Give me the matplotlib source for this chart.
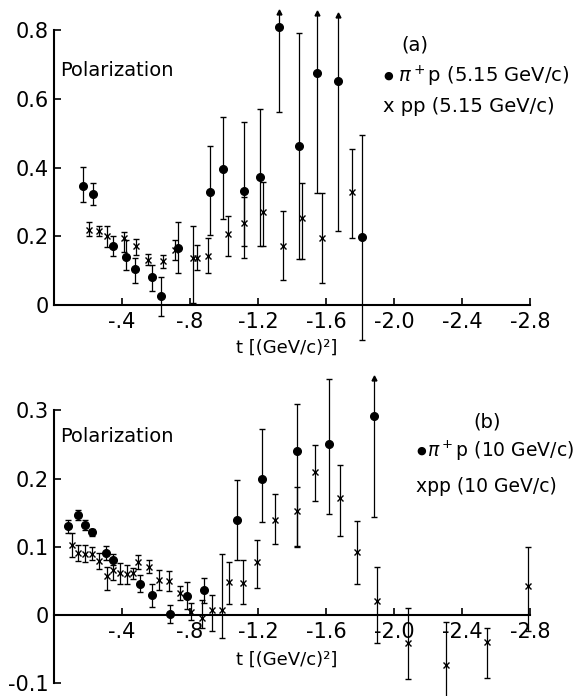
import numpy as np
import matplotlib
matplotlib.use("Agg")
import matplotlib.pyplot as plt

plt.rcParams["font.family"] = ["DejaVu Sans"]
plt.rcParams["mathtext.fontset"] = "dejavusans"

# panel (a): 5.15 GeV/c
t_a_pi = [-0.169, -0.228, -0.349, -0.422, -0.478, -0.575, -0.631, -0.729, -0.918,
          -0.996, -1.116, -1.212, -1.325, -1.443, -1.545, -1.673, -1.811]
p_a_pi = [0.346, 0.323, 0.172, 0.140, 0.104, 0.081, 0.026, 0.165, 0.329,
          0.395, 0.332, 0.373, 0.808, 0.462, 0.676, 0.652, 0.199]
lo_a_pi = [0.046, 0.032, 0.029, 0.038, 0.041, 0.040, 0.058, 0.073, 0.125,
           0.146, 0.196, 0.201, 0.248, 0.329, 0.351, 0.436, 0.301]
hi_a_pi = [0.056, 0.032, 0.028, 0.049, 0.032, 0.035, 0.056, 0.077, 0.133,
           0.153, 0.199, 0.197, 0.045, 0.328, 0.173, 0.192, 0.296]
arrow_a_pi = [0] * 12 + [1, 0, 1, 1, 0]

t_a_pp = [-0.208, -0.266, -0.310, -0.412, -0.482, -0.551, -0.643, -0.712, -0.819,
          -0.840, -0.908, -1.022, -1.120, -1.232, -1.345, -1.457, -1.578, -1.755]
p_a_pp = [0.218, 0.215, 0.200, 0.194, 0.172, 0.131, 0.127, 0.160, 0.136,
          0.138, 0.142, 0.207, 0.238, 0.271, 0.172, 0.252, 0.194, 0.330]
lo_a_pp = [0.018, 0.015, 0.030, 0.039, 0.027, 0.015, 0.020, 0.029, 0.131,
           0.036, 0.050, 0.065, 0.066, 0.099, 0.099, 0.119, 0.131, 0.136]
hi_a_pp = [0.024, 0.015, 0.030, 0.019, 0.019, 0.017, 0.018, 0.029, 0.094,
           0.036, 0.052, 0.052, 0.077, 0.088, 0.102, 0.102, 0.131, 0.123]

# panel (b): 10 GeV/c
t_b_pi = [-0.084, -0.143, -0.182, -0.222, -0.304, -0.345, -0.506, -0.575,
          -0.682, -0.780, -0.882, -1.075, -1.225, -1.428, -1.618, -1.882]
p_b_pi = [0.130, 0.147, 0.132, 0.121, 0.091, 0.081, 0.046, 0.030,
          0.002, 0.028, 0.036, 0.140, 0.200, 0.241, 0.251, 0.292]
lo_b_pi = [0.010, 0.007, 0.008, 0.005, 0.010, 0.008, 0.012, 0.018,
           0.013, 0.019, 0.019, 0.059, 0.064, 0.141, 0.103, 0.149]
hi_b_pi = [0.010, 0.007, 0.008, 0.005, 0.010, 0.008, 0.012, 0.016,
           0.013, 0.021, 0.018, 0.058, 0.073, 0.069, 0.095, 0.055]
arrow_b_pi = [0] * 15 + [1]

t_b_pp = [-0.104, -0.143, -0.182, -0.222, -0.266, -0.310, -0.345, -0.388,
          -0.428, -0.466, -0.496, -0.559, -0.620, -0.678, -0.741, -0.804,
          -0.868, -0.927, -0.990, -1.029, -1.110, -1.196, -1.300, -1.427,
          -1.535, -1.682, -1.784, -1.902, -2.081, -2.306, -2.545, -2.790]
p_b_pp = [0.103, 0.091, 0.090, 0.090, 0.079, 0.057, 0.066, 0.061,
          0.060, 0.061, 0.078, 0.071, 0.051, 0.050, 0.032, 0.005,
          -0.004, 0.007, 0.007, 0.049, 0.047, 0.077, 0.140, 0.152,
          0.210, 0.172, 0.093, 0.020, -0.041, -0.073, -0.039, 0.043]
lo_b_pp = [0.018, 0.012, 0.012, 0.010, 0.012, 0.020, 0.015, 0.015,
           0.014, 0.008, 0.010, 0.010, 0.015, 0.015, 0.010, 0.012,
           0.015, 0.030, 0.040, 0.033, 0.031, 0.038, 0.036, 0.051,
           0.043, 0.056, 0.047, 0.061, 0.053, 0.065, 0.053, 0.067]
hi_b_pp = [0.017, 0.012, 0.012, 0.010, 0.012, 0.014, 0.015, 0.015,
           0.014, 0.008, 0.010, 0.010, 0.015, 0.015, 0.010, 0.012,
           0.026, 0.022, 0.083, 0.028, 0.033, 0.033, 0.037, 0.035,
           0.040, 0.048, 0.045, 0.051, 0.052, 0.063, 0.020, 0.057]

x_ticks = [-0.4, -0.8, -1.2, -1.6, -2.0, -2.4, -2.8]
x_ticklabels = ["-.4", "-.8", "-1.2", "-1.6", "-2.0", "-2.4", "-2.8"]
y_ticks_a = [0, 0.2, 0.4, 0.6, 0.8]
y_ticklabels_a = ["0", "0.2", "0.4", "0.6", "0.8"]
y_ticks_b = [-0.1, 0, 0.1, 0.2, 0.3]
y_ticklabels_b = ["-0.1", "0", "0.1", "0.2", "0.3"]

ERR_KW = dict(color="black", mew=1.0, elinewidth=0.9, capsize=2.5, capthick=0.9)


def draw_series(ax, t, p, lo, hi, marker, ms, arrows=None):
    t, p, lo, hi = map(np.array, (t, p, lo, hi))
    if arrows is None:
        m = np.zeros(len(t), dtype=bool)
    else:
        m = np.array(arrows, dtype=bool)
    # normal points: capped both ends
    ax.errorbar(t[~m], p[~m], yerr=[lo[~m], hi[~m]], fmt=marker, ms=ms, **ERR_KW)
    if m.any():
        # lower limit points: cap below, arrowhead on top
        ax.errorbar(t[m], p[m], yerr=[lo[m], np.zeros(m.sum())], fmt=marker, ms=ms, **ERR_KW)
        ax.vlines(t[m], p[m], p[m] + hi[m], color="black", lw=0.9)
        ax.plot(t[m], p[m] + hi[m], "^", color="black", ms=3.5)


def style_axes(ax, yt, ytl, ybounds):
    ax.set_xlim(0, -2.82)
    ax.spines["top"].set_visible(False)
    ax.spines["right"].set_visible(False)
    ax.spines["bottom"].set_position(("data", 0))
    ax.spines["bottom"].set_bounds(0, -2.8)
    ax.spines["left"].set_bounds(*ybounds)
    for s in ("bottom", "left"):
        ax.spines[s].set_linewidth(1.5)
    ax.set_xticks(x_ticks)
    ax.set_xticklabels(x_ticklabels)
    ax.set_yticks(yt)
    ax.set_yticklabels(ytl)
    ax.tick_params(direction="in", length=5, width=1.2, labelsize=15)
    ax.tick_params(axis="y", pad=4)
    ax.tick_params(axis="x", pad=5)
    ax.patch.set_alpha(0)


fig = plt.figure(figsize=(5.76, 6.96), dpi=100)

ax_a = fig.add_axes([54 / 576, 0.5, 479.4 / 576, 0.4915])
ax_a.set_ylim(-0.125, 0.87)
draw_series(ax_a, t_a_pi, p_a_pi, lo_a_pi, hi_a_pi, "o", 5.5, arrow_a_pi)
draw_series(ax_a, t_a_pp, p_a_pp, lo_a_pp, hi_a_pp, "x", 4)
style_axes(ax_a, y_ticks_a, y_ticklabels_a, (0, 0.8))

ax_b = fig.add_axes([54 / 576, -0.0012, 479.4 / 576, 0.4703])
ax_b.set_ylim(-0.12, 0.36)
draw_series(ax_b, t_b_pi, p_b_pi, lo_b_pi, hi_b_pi, "o", 5.5, arrow_b_pi)
draw_series(ax_b, t_b_pp, p_b_pp, lo_b_pp, hi_b_pp, "x", 4)
style_axes(ax_b, y_ticks_b, y_ticklabels_b, (-0.1, 0.3))


def ftext(x, y, s, **kw):
    fig.text(x / 576, 1 - y / 696, s, va="center", **kw)


# panel (a) labels
ftext(60, 70, "Polarization", fontsize=14)
ftext(415, 45, "(a)", fontsize=14, ha="center")
ftext(383, 76, "\u25cf", fontsize=8)
ftext(398, 76, "$\\pi^+$p (5.15 GeV/c)", fontsize=14)
ftext(383, 106, "x pp (5.15 GeV/c)", fontsize=14)
ftext(236, 348, "t [(GeV/c)\u00b2]", fontsize=13)

# panel (b) labels
ftext(487, 422, "(b)", fontsize=14, ha="center")
ftext(60, 437, "Polarization", fontsize=14)
ftext(416, 451, "\u25cf", fontsize=8)
ftext(427, 451, "$\\pi^+$p (10 GeV/c)", fontsize=13.5)
ftext(416, 487, "xpp (10 GeV/c)", fontsize=13.5)
ftext(236, 660, "t [(GeV/c)\u00b2]", fontsize=13)

fig.savefig("out.png", dpi=100)
